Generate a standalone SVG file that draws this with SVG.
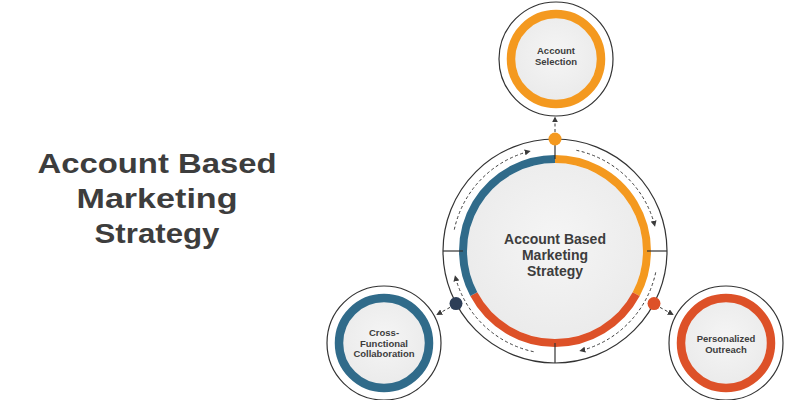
<svg xmlns="http://www.w3.org/2000/svg" width="800" height="400" viewBox="0 0 800 400">
<defs>
<radialGradient id="fillg" cx="50%" cy="45%" r="55%">
<stop offset="0" stop-color="#f5f5f5"/>
<stop offset="1" stop-color="#ebebeb"/>
</radialGradient>
<marker id="ah" viewBox="0 0 10 10" refX="9" refY="5" markerWidth="6" markerHeight="6" markerUnits="userSpaceOnUse" orient="auto">
<path d="M0,0 L10,5 L0,10 z" fill="#3a3a3a"/>
</marker>
<style>
.thin{fill:#ffffff;stroke:#333333;stroke-width:1.2}
.inner{fill:url(#fillg)}
.lbl{font-family:"Liberation Sans",Arial,sans-serif;font-weight:bold;fill:#3d3d3d;text-anchor:middle}
.node{font-size:9.5px}
.dash{fill:none;stroke:#3a3a3a;stroke-width:1;stroke-dasharray:3 2.5;marker-end:url(#ah)}
.tick{stroke:#333333;stroke-width:1.2}
.seg{fill:none;stroke-width:8}
</style>
</defs>
<rect width="800" height="400" fill="#ffffff"/>

<g id="title">
<text class="lbl" x="157" y="173" font-size="28" textLength="239" lengthAdjust="spacingAndGlyphs">Account Based</text>
<text class="lbl" x="157" y="208" font-size="28" textLength="161" lengthAdjust="spacingAndGlyphs">Marketing</text>
<text class="lbl" x="157" y="243" font-size="28" textLength="125" lengthAdjust="spacingAndGlyphs">Strategy</text>
</g>

<g id="hub">
<circle class="thin" cx="555" cy="251" r="112"/>
<circle class="inner" cx="555" cy="251" r="88"/>
<path class="seg" stroke="#f4991f" d="M555 159 A92 92 0 0 1 636.2 294.2"/>
<path class="seg" stroke="#dd5128" d="M636.2 294.2 A92 92 0 0 1 473.8 294.2"/>
<path class="seg" stroke="#306b8a" d="M473.8 294.2 A92 92 0 0 1 555 159"/>
<line class="tick" x1="555" y1="139" x2="555" y2="159"/>
<line class="tick" x1="443" y1="251" x2="463" y2="251"/>
<line class="tick" x1="647" y1="251" x2="667" y2="251"/>
<line class="tick" x1="555" y1="343" x2="555" y2="363"/>
<text class="lbl" x="555" y="244" font-size="14">Account Based</text>
<text class="lbl" x="555" y="260" font-size="14">Marketing</text>
<text class="lbl" x="555" y="276" font-size="14">Strategy</text>
</g>

<g id="connectors">
<path class="dash" d="M454.3 229.6 A103 103 0 0 1 530.1 151.1"/>
<path class="dash" d="M576.4 150.3 A103 103 0 0 1 654.9 226.1"/>
<path class="dash" d="M655.7 272.4 A103 103 0 0 1 579.9 350.9"/>
<path class="dash" d="M533.6 351.7 A103 103 0 0 1 455.1 275.9"/>
<line class="dash" x1="555" y1="132" x2="555" y2="117"/>
<line class="dash" x1="660" y1="307.4" x2="673.2" y2="314.6"/>
<line class="dash" x1="450" y1="307.4" x2="436.8" y2="314.6"/>
<circle cx="555" cy="139" r="6.5" fill="#f4991f"/>
<circle cx="654" cy="303.6" r="6.5" fill="#dd5128"/>
<circle cx="456" cy="303.6" r="6.5" fill="#2d3e57"/>
</g>

<g id="node-account-selection">
<circle class="thin" cx="556" cy="59" r="57"/>
<circle class="inner" cx="556" cy="59" r="41"/>
<circle cx="556" cy="59" r="45" fill="none" stroke="#f4991f" stroke-width="8.5"/>
<text class="lbl node" x="556" y="54">Account</text>
<text class="lbl node" x="556" y="65">Selection</text>
</g>

<g id="node-personalized-outreach">
<circle class="thin" cx="726" cy="343" r="57"/>
<circle class="inner" cx="726" cy="343" r="41"/>
<circle cx="726" cy="343" r="45" fill="none" stroke="#dd5128" stroke-width="8.5"/>
<text class="lbl node" x="726" y="341.5">Personalized</text>
<text class="lbl node" x="726" y="352.5">Outreach</text>
</g>

<g id="node-cross-functional">
<circle class="thin" cx="384" cy="343" r="57"/>
<circle class="inner" cx="384" cy="343" r="41"/>
<circle cx="384" cy="343" r="45" fill="none" stroke="#306b8a" stroke-width="8.5"/>
<text class="lbl node" x="384" y="336">Cross-</text>
<text class="lbl node" x="384" y="346.7">Functional</text>
<text class="lbl node" x="384" y="357.4">Collaboration</text>
</g>
</svg>
